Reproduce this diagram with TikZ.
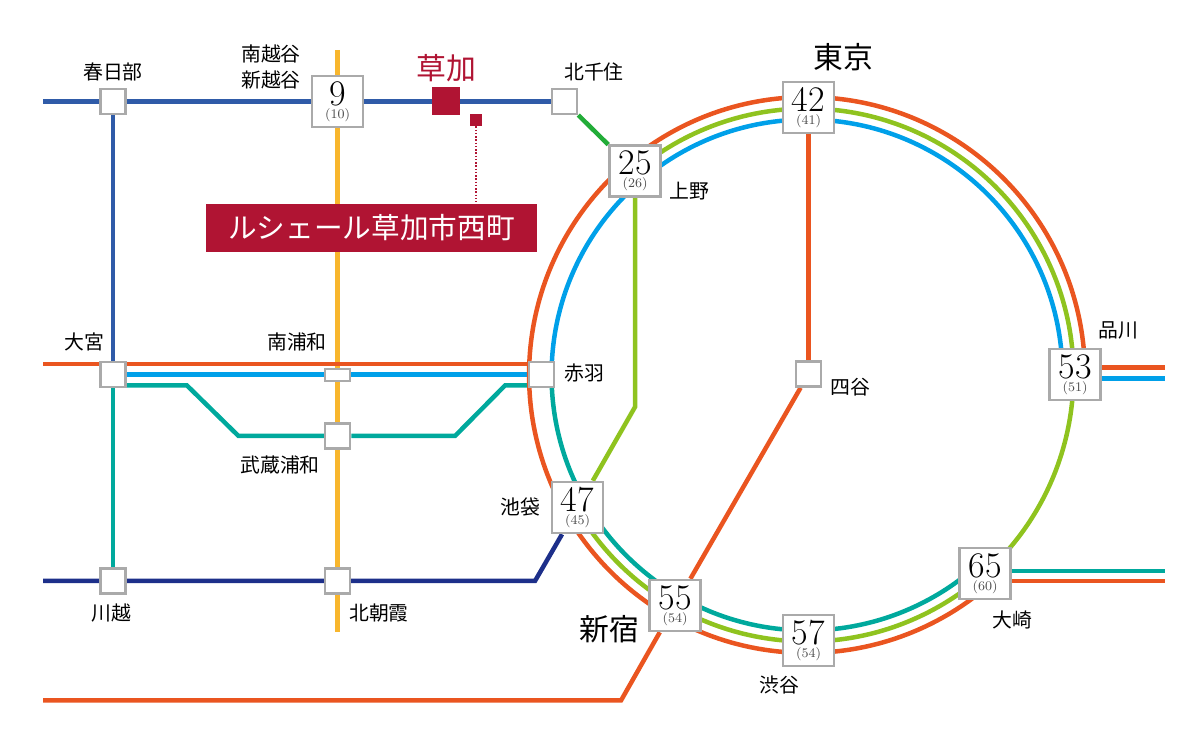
\documentclass[tikz,border=0pt]{standalone}
\usepackage{fontspec}
\newfontfamily\jpfont{Noto Sans CJK JP}
\usetikzlibrary{backgrounds}
\definecolor{lineorange}{HTML}{EA5520}
\definecolor{linegreen}{HTML}{8FC31F}
\definecolor{lineblue}{HTML}{00A0E9}
\definecolor{lineteal}{HTML}{00A99D}
\definecolor{linetop}{HTML}{2F5BA8}
\definecolor{linenavy}{HTML}{1D2F8A}
\definecolor{lineyellow}{HTML}{F8B62D}
\definecolor{linekita}{HTML}{22AC38}
\definecolor{boxgray}{HTML}{AAAAAA}
\definecolor{crimson}{HTML}{B01433}
\tikzset{
  rail/.style={line width=0.09cm},
  bigbox/.style={draw=boxgray, fill=white, line width=0.05cm, minimum size=1.02cm, inner sep=0pt, align=center,
    font=\fontsize{20.5}{7.6}\selectfont, execute at begin node={\rule{0pt}{19pt}}},
  smallbox/.style={draw=boxgray, fill=white, line width=0.05cm, minimum size=0.5cm, inner sep=0pt},
  jplabel/.style={inner sep=0pt, align=center, font=\jpfont\fontsize{11.3}{14.7}\selectfont},
  jpbig/.style={inner sep=0pt, font=\jpfont\fontsize{17}{17}\selectfont}
}
\newcommand{\subtime}[1]{{\fontsize{7.5}{7.6}\selectfont\color{black!70}(#1)}}
\begin{document}
\begin{tikzpicture}[x=0.02cm, y=0.02cm]
\useasboundingbox (0,0) rectangle (1200,750);
\def\rorange{5.56cm}
\def\rgreen{5.33cm}
\def\rblue{5.11cm}
\coordinate (ring) at (807,375);
\node[bigbox] (tokyo) at (808.5,642.5) {42\\\subtime{41}};
\node[bigbox] (ueno) at (635,579) {25\\\subtime{26}};
\node[bigbox] (koshigaya) at (337.5,648.5) {9\\\subtime{10}};
\node[bigbox] (ikebukuro) at (577.5,242.5) {47\\\subtime{45}};
\node[bigbox] (shinjuku) at (675,144.5) {55\\\subtime{54}};
\node[bigbox] (shibuya) at (808.5,109.5) {57\\\subtime{54}};
\node[bigbox] (osaki) at (985,176.5) {65\\\subtime{60}};
\node[bigbox] (shinagawa) at (1075,375.5) {53\\\subtime{51}};
\node[smallbox] (kasukabe) at (113,648.5) {};
\node[smallbox] (kitasenju) at (564.5,648.5) {};
\node[smallbox] (omiya) at (113,375.5) {};
\node[smallbox] (akabane) at (541.5,375.5) {};
\node[smallbox] (yotsuya) at (808.5,376) {};
\node[smallbox] (musashi) at (337.5,314) {};
\node[smallbox] (kawagoe) at (113,169) {};
\node[smallbox] (asaka) at (337.5,169) {};
\node[draw=boxgray, fill=white, line width=0.05cm, minimum width=0.5cm, minimum height=0.24cm, inner sep=0pt] (minamiurawa) at (337.5,375) {};
\node[fill=crimson, minimum size=0.56cm, inner sep=0pt] (soka) at (446,648.5) {};
\node[fill=crimson, minimum size=0.24cm, inner sep=0pt] (sokadot) at (476,630) {};
\node[fill=crimson, text=white, minimum width=6.63cm, minimum height=0.95cm, inner sep=0pt, font=\jpfont\fontsize{16.3}{16.3}\selectfont] (banner) at (371.5,522) {ルシェール草加市西町};
\coordinate (yellowtop) at (337.5,700);
\coordinate (yellowbottom) at (337.5,118);
\coordinate (topwest) at (43,648.5);
\coordinate (orangewest) at (43,386);
\coordinate (navywest) at (43,169);
\coordinate (navybend) at (535,169);
\coordinate (lowwest) at (43,49.5);
\coordinate (lowbend) at (621,49.5);
\coordinate (uenobend) at (635,343);
\coordinate (eastend) at (1165,375);
\coordinate (dotend) at (476,548);
\begin{scope}[on background layer]
\draw[rail, lineyellow] (yellowtop) -- (yellowbottom);
\draw[rail, linetop] (topwest) -- (kitasenju);
\draw[rail, linetop] (kasukabe) -- (omiya);
\draw[rail, linekita] (kitasenju) -- (ueno);
\draw[rail, lineorange] (orangewest) -- (orangewest -| akabane);
\draw[rail, lineblue] (omiya) -- (akabane);
\draw[rail, lineteal] ([yshift=-0.22cm]omiya.center) -- (187,364.5) -- (238.5,314) -- (musashi) -- (455,314) -- (505,364.5) -- ([yshift=-0.22cm]akabane.center);
\draw[rail, lineteal] (omiya) -- (kawagoe);
\draw[rail, linenavy] (navywest) -- (navybend) -- (ikebukuro);
\draw[rail, lineorange] (lowwest) -- (lowbend) -- (shinjuku);
\draw[rail, lineorange] (shinjuku) -- (yotsuya);
\draw[rail, lineorange] (tokyo) -- (yotsuya);
\draw[rail, linegreen] (ueno) -- (uenobend) -- (ikebukuro);
\draw[rail, lineorange] (ring) ++(0:\rorange) arc[start angle=0, end angle=310, radius=\rorange];
\draw[rail, linegreen] (ring) ++(210:\rgreen) arc[start angle=210, end angle=490, radius=\rgreen];
\draw[rail, lineblue] (ring) ++(0:\rblue) arc[start angle=0, end angle=180, radius=\rblue];
\draw[rail, lineteal] (ring) ++(180:\rblue) arc[start angle=180, end angle=310, radius=\rblue];
\draw[rail, lineorange] ([yshift=0.14cm]shinagawa.center) -- ([yshift=0.14cm]shinagawa.center -| eastend);
\draw[rail, lineblue] ([yshift=-0.08cm]shinagawa.center) -- ([yshift=-0.08cm]shinagawa.center -| eastend);
\draw[rail, lineteal] ([yshift=0.05cm]osaki.center) -- ([yshift=0.05cm]osaki.center -| eastend);
\draw[rail, lineorange] ([yshift=-0.15cm]osaki.center) -- ([yshift=-0.15cm]osaki.center -| eastend);
\draw[line width=0.03cm, crimson, densely dotted] (sokadot) -- (dotend);
\end{scope}
\node[jplabel] (lkasukabe) at (113,678) {春日部};
\node[jplabel] (lkoshigaya) at (271,683) {南越谷\\新越谷};
\node[jpbig, text=crimson] (lsoka) at (446,682) {草加};
\node[jplabel] (lkitasenju) at (594,678) {北千住};
\node[jpbig] (ltokyo) at (843,693) {東京};
\node[jplabel] (lueno) at (689,559) {上野};
\node[jplabel] (lshinagawa) at (1118,420) {品川};
\node[jplabel] (lomiya) at (84,408) {大宮};
\node[jplabel] (lminamiurawa) at (297,408) {南浦和};
\node[jplabel] (lakabane) at (584,377) {赤羽};
\node[jplabel] (lyotsuya) at (850,363) {四谷};
\node[jplabel] (lmusashi) at (280,285) {武蔵浦和};
\node[jplabel] (likebukuro) at (520,243) {池袋};
\node[jplabel] (lkawagoe) at (111,137) {川越};
\node[jplabel] (lasaka) at (379,137) {北朝霞};
\node[jpbig] (lshinjuku) at (609,121) {新宿};
\node[jplabel] (lshibuya) at (779,65) {渋谷};
\node[jplabel] (losaki) at (1012,130) {大崎};
\end{tikzpicture}
\end{document}
